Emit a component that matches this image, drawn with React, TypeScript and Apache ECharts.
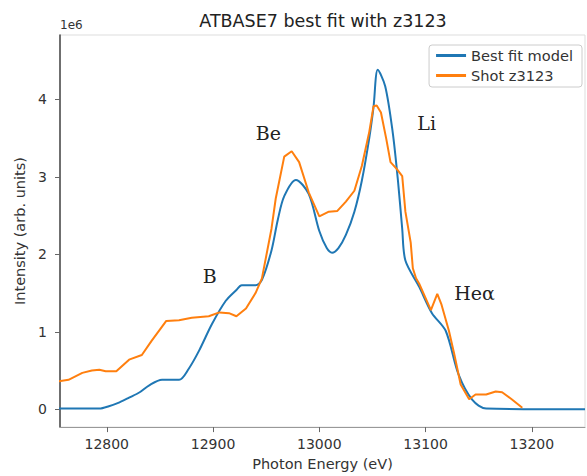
import React, { useEffect, useRef } from "react";
import * as echarts from "echarts";

const energyTicks = [12800, 12900, 13000, 13100, 13200];
const intensityTicks = [0, 1, 2, 3, 4];

// Best fit model (intensity in units of 1e6)
const modelEnergy = [
  12755, 12793, 12802, 12812, 12821, 12831, 12840, 12852, 12868, 12877, 12887, 12899,
  12912, 12922, 12927, 12940, 12946, 12955, 12961, 12967, 12978, 12990, 13000, 13007,
  13012, 13018, 13025, 13033, 13040, 13047, 13051, 13055, 13062, 13069, 13074, 13078,
  13081, 13094, 13106, 13119, 13131, 13144, 13157, 13250,
];
const modelIntensity = [
  0.01, 0.01, 0.04, 0.09, 0.15, 0.22, 0.31, 0.38, 0.38, 0.52, 0.76, 1.1,
  1.4, 1.54, 1.6, 1.6, 1.67, 2.05, 2.45, 2.75, 2.96, 2.78, 2.3, 2.08,
  2.02, 2.08, 2.25, 2.55, 2.95, 3.5, 3.9, 4.38, 4.17, 3.58, 2.95, 2.33,
  1.92, 1.58, 1.24, 1.01, 0.45, 0.12, 0.01, 0.0,
];

// Shot z3123
const shotEnergy = [
  12755, 12764, 12777, 12786, 12793, 12799, 12809, 12821, 12833, 12842, 12856, 12868,
  12880, 12896, 12906, 12915, 12922, 12931, 12940, 12946, 12955, 12959, 12967, 12974,
  12981, 12990, 13000, 13009, 13017, 13025, 13033, 13040, 13047, 13051, 13054, 13058,
  13063, 13067, 13073, 13078, 13081, 13086, 13088, 13091, 13094, 13105, 13111, 13115,
  13122, 13127, 13133, 13141, 13147, 13157, 13166, 13172, 13181, 13191,
];
const shotIntensity = [
  0.36, 0.38, 0.47, 0.5, 0.51, 0.49, 0.49, 0.64, 0.7, 0.88, 1.14, 1.15,
  1.18, 1.2, 1.25, 1.24, 1.2, 1.3, 1.5, 1.69, 2.33, 2.72, 3.26, 3.33,
  3.19, 2.8, 2.49, 2.55, 2.56, 2.68, 2.82, 3.14, 3.58, 3.91, 3.92, 3.83,
  3.49, 3.19, 3.1, 3.01, 2.55, 2.15, 1.82, 1.69, 1.62, 1.28, 1.49, 1.35,
  1.01, 0.71, 0.32, 0.13, 0.19, 0.19, 0.23, 0.22, 0.13, 0.02,
];

const annotationNames = ["B", "Be", "Li", "Heα"];
const annotationEnergy = [12897, 12952, 13101, 13146];
const annotationIntensity = [1.72, 3.56, 3.7, 1.5];

const SANS = "'DejaVu Sans', sans-serif";
const SERIF = "'DejaVu Serif', serif";

export default function App() {
  const ref = useRef<HTMLDivElement>(null);
  useEffect(() => {
    if (!ref.current) return;
    const chart = echarts.init(ref.current, null, { renderer: "svg" });
    const zip = (xs: number[], ys: number[]) => xs.map((x, i) => [x, ys[i]]);
    chart.setOption({
      animation: false,
      backgroundColor: "#ffffff",
      textStyle: { fontFamily: SANS },
      grid: {
        left: 60,
        top: 35,
        right: 2,
        bottom: 46,
        show: true,
        borderColor: "#dddddd",
        borderWidth: 1,
        backgroundColor: "transparent",
      },
      legend: {
        data: ["Best fit model", "Shot z3123"],
        orient: "vertical",
        right: 5,
        top: 45,
        padding: [3, 9, 4, 7],
        itemGap: 5,
        itemWidth: 30,
        itemHeight: 3,
        itemTextGap: 10,
        icon: "rect",
        borderColor: "#cccccc",
        borderWidth: 1,
        borderRadius: 3,
        backgroundColor: "#ffffff",
        textStyle: { fontFamily: SANS, fontSize: 14.6, color: "#333333" },
      },
      xAxis: {
        type: "value",
        min: 12756,
        max: 13250,
        name: "Photon Energy (eV)",
        nameLocation: "middle",
        nameGap: 26,
        nameTextStyle: { fontFamily: SANS, fontSize: 14.5, color: "#333333" },
        axisLine: { show: true, onZero: false, lineStyle: { color: "#999999", width: 1 } },
        axisTick: {
          show: true,
          length: 5,
          customValues: energyTicks,
          lineStyle: { color: "#666666" },
        },
        axisLabel: {
          customValues: energyTicks,
          margin: 10,
          fontFamily: SANS,
          fontSize: 14,
          color: "#333333",
          formatter: (v: number) => String(Math.round(v)),
        },
        splitLine: { show: false },
      },
      yAxis: {
        type: "value",
        min: -0.23,
        max: 4.83,
        name: "Intensity (arb. units)",
        nameLocation: "middle",
        nameRotate: 90,
        nameGap: 27,
        nameTextStyle: { fontFamily: SANS, fontSize: 14.5, color: "#333333" },
        axisLine: { show: true, onZero: false, lineStyle: { color: "#444444", width: 1.5 } },
        axisTick: {
          show: true,
          length: 5,
          customValues: intensityTicks,
          lineStyle: { color: "#666666" },
        },
        axisLabel: {
          customValues: intensityTicks,
          margin: 13,
          fontFamily: SANS,
          fontSize: 14,
          color: "#333333",
          formatter: (v: number) => String(Math.round(v)),
        },
        splitLine: { show: false },
      },
      series: [
        {
          name: "Best fit model",
          type: "line",
          data: zip(modelEnergy, modelIntensity),
          showSymbol: false,
          symbol: "none",
          smooth: 0.3,
          color: "#1f77b4",
          lineStyle: { color: "#1f77b4", width: 2 },
          z: 2,
        },
        {
          name: "Shot z3123",
          type: "line",
          data: zip(shotEnergy, shotIntensity),
          showSymbol: false,
          symbol: "none",
          color: "#ff7f0e",
          lineStyle: { color: "#ff7f0e", width: 2 },
          z: 3,
        },
      ],
    });
    const annotations = annotationNames.map((name, i) => {
      const p = chart.convertToPixel({ gridIndex: 0 }, [annotationEnergy[i], annotationIntensity[i]]) as number[];
      return {
        type: "text",
        x: p[0],
        y: p[1],
        style: {
          text: name,
          fontFamily: SERIF,
          fontSize: 19,
          fill: "#222222",
          textAlign: "center",
          textVerticalAlign: "middle",
        },
        z: 10,
      };
    });
    chart.setOption({
      graphic: [
        {
          type: "text",
          x: 323,
          y: 21,
          style: {
            text: "ATBASE7 best fit with z3123",
            fontFamily: SANS,
            fontSize: 17.5,
            fill: "#222222",
            textAlign: "center",
            textVerticalAlign: "middle",
          },
        },
        {
          type: "text",
          x: 60,
          y: 25,
          style: {
            text: "1e6",
            fontFamily: SANS,
            fontSize: 12,
            fill: "#333333",
            textAlign: "left",
            textVerticalAlign: "middle",
          },
        },
        ...annotations,
      ],
    });
    return () => chart.dispose();
  }, []);
  return <div ref={ref} style={{ width: 587, height: 476, position: "absolute", left: 0, top: 0 }} />;
}
